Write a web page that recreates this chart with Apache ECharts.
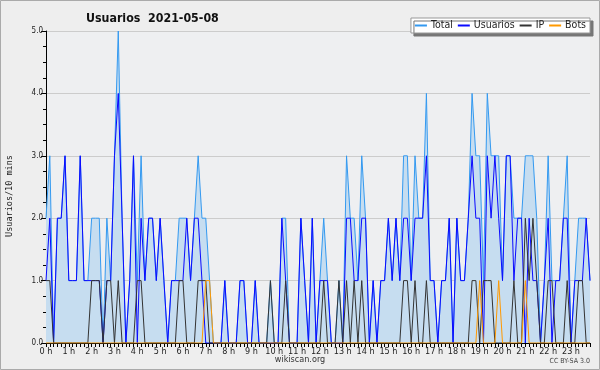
<!DOCTYPE html>
<html><head><meta charset="utf-8">
<script src="https://cdn.jsdelivr.net/npm/echarts@6/dist/echarts.min.js"></script>
<style>html,body{margin:0;padding:0;background:#eeeeee}#c{width:600px;height:370px}</style>
</head><body><div id="c"></div>
<script>
var hourLabels = ['0 h','1 h','2 h','3 h','4 h','5 h','6 h','7 h','8 h','9 h','10 h','11 h','12 h','13 h','14 h','15 h','16 h','17 h','18 h','19 h','20 h','21 h','22 h','23 h'];
var yTicks = [0,1,2,3,4,5];
var total = [2,3,0,2,2,3,1,1,1,3, 1,1,2,2,2,0,2,1,3,5, 2,0,1,3,1,3,1,2,2,1, 2,1,0,1,1,2,2,2,1,2,
 3,2,2,1,0,0,0,1,0,0, 0,1,1,0,0,1,0,0,0,1, 0,0,2,2,0,0,0,2,1,0, 2,0,1,2,1,0,0,1,0,3,
 2,2,1,3,2,0,1,0,1,1, 2,1,2,1,3,3,1,3,2,2, 4,1,1,0,1,1,2,0,2,1, 1,2,4,3,3,1,4,3,3,3,
 1,3,3,2,2,2,3,3,3,2, 0,1,3,1,1,1,2,3,0,1, 2,2,2,1];
var usuarios = [1,2,0,2,2,3,1,1,1,3, 1,1,1,1,1,0,1,1,3,4, 2,0,1,3,0,2,1,2,2,1, 2,1,0,1,1,1,1,2,1,2,
 2,1,0,0,0,0,0,1,0,0, 0,1,1,0,0,1,0,0,0,0, 0,0,2,1,0,0,0,2,1,0, 2,0,1,1,1,0,0,0,0,2,
 2,1,1,2,2,0,1,0,1,1, 2,1,2,1,2,2,1,2,2,2, 3,1,1,0,1,1,2,0,2,1, 1,2,3,2,2,0,3,2,3,2,
 1,3,3,1,2,2,0,2,1,1, 0,1,2,0,1,1,2,2,0,1, 1,1,2,1];
var ip = [1,1,0,0,0,0,0,0,0,0, 0,0,1,1,1,0,1,1,0,1, 0,0,0,0,1,1,0,0,0,0, 0,0,0,0,0,1,1,0,0,0,
 1,1,1,0,0,0,0,0,0,0, 0,0,0,0,0,0,0,0,0,1, 0,0,0,1,0,0,0,0,0,0, 0,0,0,1,0,0,0,1,0,1,
 0,1,0,1,0,0,0,0,0,0, 0,0,0,0,1,1,0,1,0,0, 1,0,0,0,0,0,0,0,0,0, 0,0,1,1,0,1,1,1,0,0,
 0,0,0,1,0,0,2,1,2,1, 0,0,1,1,0,0,0,1,0,0, 1,1,0,0];
var bots = [0,0,0,0,0,0,0,0,0,0, 0,0,0,0,0,0,0,0,0,0, 0,0,0,0,0,0,0,0,0,0, 0,0,0,0,0,0,0,0,0,0,
 0,0,1,1,0,0,0,0,0,0, 0,0,0,0,0,0,0,0,0,0, 0,0,0,0,0,0,0,0,0,0, 0,0,0,0,0,0,0,0,0,0,
 0,0,0,0,0,0,0,0,0,0, 0,0,0,0,0,0,0,0,0,0, 0,0,0,0,0,0,0,0,0,0, 0,0,0,0,1,0,0,0,0,1,
 0,0,0,0,0,0,1,0,0,0, 0,0,0,0,0,0,0,0,0,0, 0,0,0,0];

var cats = [];
for (var h = 0; h < 24; h++) for (var m = 0; m < 60; m += 10) cats.push(h + ':' + (m < 10 ? '0' : '') + m);

var F = 'DejaVu Sans Condensed';
var chart = echarts.init(document.getElementById('c'), null, {renderer: 'canvas'});
function ln(name, data, color, z, area) {
  var s = {name: name, type: 'line', data: data, symbol: 'none', z: z,
    lineStyle: {color: color, width: 1}, itemStyle: {color: color}, animation: false};
  if (area) s.areaStyle = {color: '#c6ddf0', opacity: 1};
  return s;
}
chart.setOption({
  backgroundColor: '#eeeeee',
  animation: false,
  title: {text: 'Usuarios  2021-05-08', left: 81, top: 8,
    textStyle: {fontFamily: F, fontWeight: 'bold', fontSize: 12.3, color: '#111'}},
  legend: {right: 10, top: 18, itemWidth: 12, itemHeight: 2, itemGap: 5, icon: 'rect',
    padding: [2, 4, 2, 4], backgroundColor: '#ffffff', borderColor: '#999999', borderWidth: 1,
    shadowColor: '#777777', shadowOffsetX: 3, shadowOffsetY: 3, shadowBlur: 0,
    textStyle: {fontFamily: F, fontSize: 10.5, color: '#222', padding: [0, 0, 0, -1]},
    data: ['Total', 'Usuarios', 'IP', 'Bots']},
  grid: {left: 46, right: 10, top: 31, bottom: 27, backgroundColor: '#eeeff1', show: true, borderWidth: 0},
  xAxis: {type: 'category', data: cats, boundaryGap: false,
    axisLine: {lineStyle: {color: '#000', width: 1}},
    axisTick: {interval: 0, length: 4, lineStyle: {color: '#000'}},
    axisLabel: {interval: 5, margin: 4, fontFamily: F, fontSize: 9, color: '#222',
      formatter: function (v, i) { return hourLabels[Math.floor(i / 6)]; }},
    splitLine: {show: false}},
  yAxis: {type: 'value', min: yTicks[0], max: yTicks[yTicks.length - 1], interval: 1,
    axisLine: {show: true, lineStyle: {color: '#000', width: 1}},
    axisTick: {show: true, length: 5, lineStyle: {color: '#000'}},
    minorTick: {show: true, splitNumber: 4, length: 3, lineStyle: {color: '#000'}},
    axisLabel: {fontFamily: F, fontSize: 8, color: '#222', margin: 3,
      formatter: function (v) { return v.toFixed(1); }},
    splitLine: {show: true, lineStyle: {color: '#cccccc', width: 1}}},
  series: [
    ln('Total', total, '#3399f0', 2, true),
    ln('Usuarios', usuarios, '#0a0aff', 3),
    ln('IP', ip, '#333333', 4),
    ln('Bots', bots, '#ff9900', 5)
  ],
  graphic: [
    {type: 'rect', shape: {x: 0.5, y: 0.5, width: 599, height: 369}, style: {fill: 'none', stroke: '#aaaaaa', lineWidth: 1}, silent: true},
    {type: 'text', x: 10, y: 196, rotation: Math.PI / 2,
      style: {text: 'Usuarios/10 mins', font: '8.5px "DejaVu Sans Mono"', fill: '#222', align: 'center', verticalAlign: 'middle'}},
    {type: 'text', left: 'center', top: 355, style: {text: 'wikiscan.org', font: '9px "DejaVu Sans Condensed"', fill: '#333'}},
    {type: 'text', right: 10, top: 358, style: {text: 'CC BY-SA 3.0', font: '7px "DejaVu Sans Condensed"', fill: '#444'}}
  ]
});
</script></body></html>
